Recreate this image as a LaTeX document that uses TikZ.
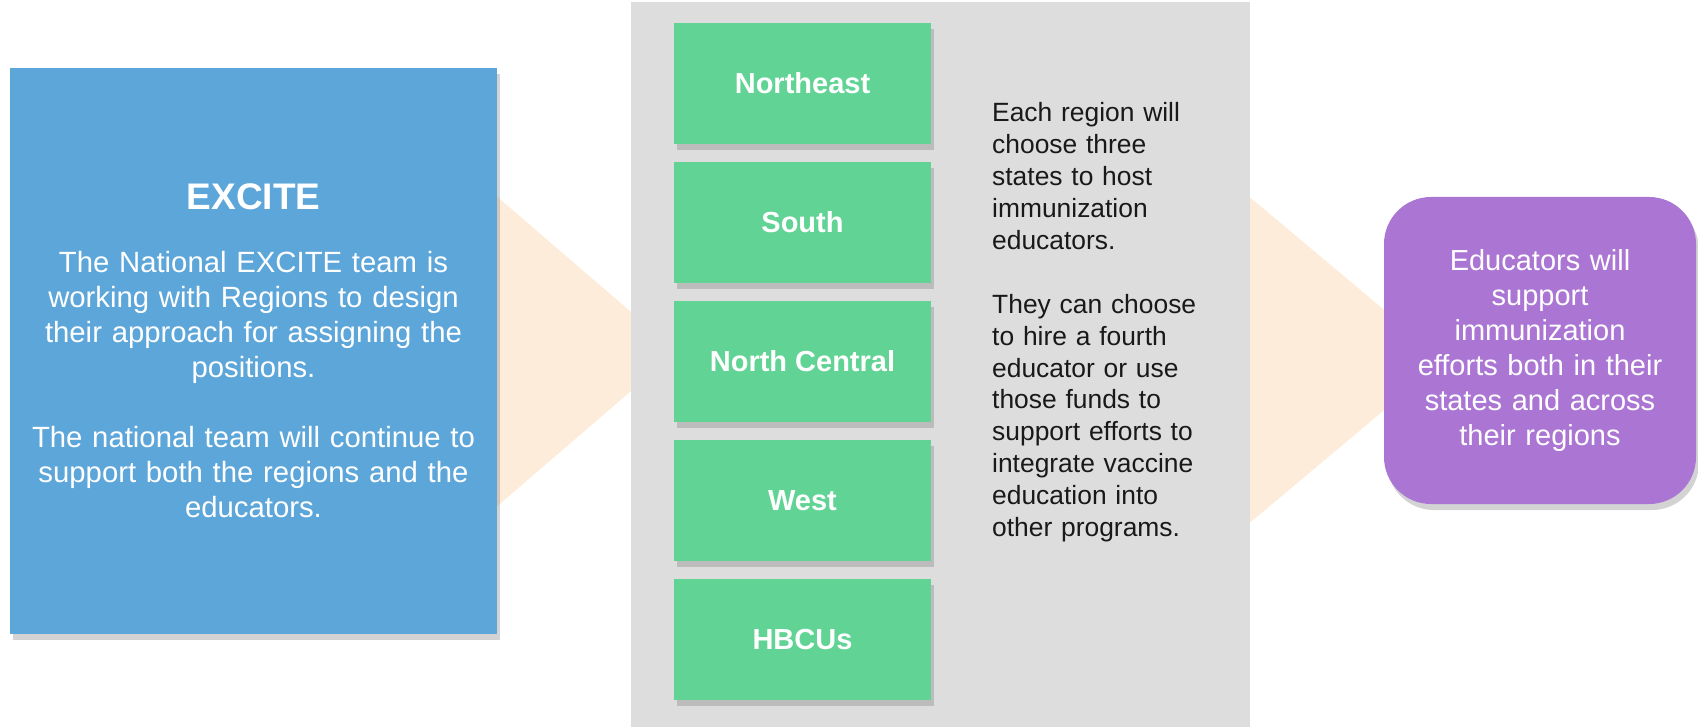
\documentclass[tikz,border=0pt]{standalone}
\usepackage{fontspec}
\setmainfont{Liberation Sans}
\usepackage{tikz}
\usetikzlibrary{positioning}
\usetikzlibrary{shadows}
\definecolor{excitebl}{RGB}{93,166,218}
\definecolor{regiongreen}{RGB}{97,212,149}
\definecolor{panelgray}{RGB}{221,221,221}
\definecolor{arrowpeach}{RGB}{253,236,217}
\definecolor{educpurple}{RGB}{171,117,212}
\definecolor{textdark}{RGB}{25,25,25}
\tikzset{
    boxshadow/.style={drop shadow={shadow xshift=3pt, shadow yshift=-6pt, opacity=0.35}},
    regionbox/.style={fill=regiongreen, text=white, minimum width=257pt, minimum height=121pt,
        inner sep=0pt, font=\fontsize{29}{35}\selectfont\bfseries, boxshadow},
}

\begin{document}
\begin{tikzpicture}[x=1pt, y=-1pt]
    \useasboundingbox (0,0) rectangle (1698,727);

    % Background arrows
    \fill[arrowpeach] (480,182) -- (677,351.5) -- (480,521) -- cycle;
    \fill[arrowpeach] (1240,189) -- (1444,360) -- (1240,531) -- cycle;

    % Regions panel
    \fill[panelgray] (631,2) rectangle (1250,727);

    % EXCITE
    \node[fill=excitebl, text=white, minimum width=487pt, minimum height=566pt, text width=470pt,
        align=center, font=\fontsize{29.3}{35}\selectfont, boxshadow] (excite) at (253.5,351) {%
        {\fontsize{37}{40}\selectfont\bfseries EXCITE}\\[28pt]
        The National EXCITE team is\\
        working with Regions to design\\
        their approach for assigning the\\
        positions.\\[35pt]
        The national team will continue to\\
        support both the regions and the\\
        educators.};

    % Regions
    \node[regionbox] (northeast) at (802.5,83.5) {Northeast};
    \node[regionbox, below=17.5pt of northeast] (south) {South};
    \node[regionbox, below=17.5pt of south] (northcentral) {North Central};
    \node[regionbox, below=17.5pt of northcentral] (west) {West};
    \node[regionbox, below=17.5pt of west] (hbcus) {HBCUs};

    \node[anchor=north west, inner sep=0pt, text width=250pt, align=left, text=textdark,
        font=\fontsize{26.4}{31.9}\selectfont] (states) at (992,102.5) {%
        Each region will\\
        choose three\\
        states to host\\
        immunization\\
        educators.\\[31.9pt]
        They can choose\\
        to hire a fourth\\
        educator or use\\
        those funds to\\
        support efforts to\\
        integrate vaccine\\
        education into\\
        other programs.};

    % Educators
    \node[fill=educpurple, rounded corners=47pt, text=white, minimum width=312pt, minimum height=307pt,
        text width=290pt, align=center, font=\fontsize{29}{35}\selectfont, boxshadow] (educators) at (1540,350.5) {%
        Educators will\\
        support\\
        immunization\\
        efforts both in their\\
        states and across\\
        their regions};
\end{tikzpicture}
\end{document}
